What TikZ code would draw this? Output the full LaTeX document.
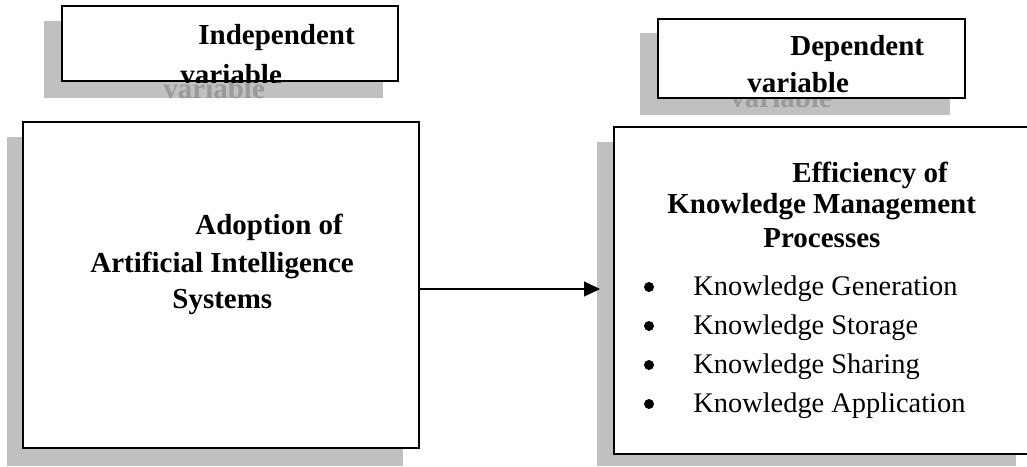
\documentclass[tikz,border=0pt]{standalone}
\usepackage{fontspec}
\setmainfont{Liberation Serif}
\usetikzlibrary{fit,arrows.meta}
\definecolor{shadowgrey}{HTML}{C0C0C0}
\definecolor{shadowtext}{HTML}{9A9A9A}
\tikzset{
  box/.style={draw=black, line width=1.1pt, fill=white, inner sep=0pt},
  shade/.style={fill=shadowgrey, draw=none, inner sep=0pt},
  bold/.style={anchor=base west, inner sep=0pt, font=\fontsize{14.5}{17}\selectfont\bfseries},
  item/.style={anchor=base west, inner sep=0pt, font=\fontsize{14.2}{17}\selectfont},
  dot/.style={circle, fill=black, inner sep=0pt, minimum size=5pt},
  link/.style={line width=0.6pt, -{Triangle[length=8pt,width=7.5pt]}}
}
\begin{document}
\begin{tikzpicture}[x=0.5pt,y=-0.5pt]
\clip (0,0) rectangle (1027,466);
\fill[white] (0,0) rectangle (1027,466);

% ---- Independent variable header ----
\node[shade, fit={(44,21) (383,98)}] (indsh) {};
\begin{scope}
  \clip (indsh.north west) rectangle (indsh.south east);
  \node[bold, text=shadowtext] (indshtxt) at (163,98) {variable};
\end{scope}
\node[box, fit={(62,6) (398,81)}] (ind) {};
\begin{scope}
  \clip (ind.north west) rectangle (ind.south east);
  \node[bold] (indt1) at (198,44) {Independent};
  \node[bold] (indt2) at (180,84) {variable};
\end{scope}

% ---- Dependent variable header ----
\node[shade, fit={(640,33) (950,115)}] (depsh) {};
\begin{scope}
  \clip (depsh.north west) rectangle (depsh.south east);
  \node[bold, text=shadowtext] (depshtxt) at (730,107) {variable};
\end{scope}
\node[box, fit={(658,19) (965,98)}] (dep) {};
\begin{scope}
  \clip (dep.north west) rectangle (dep.south east);
  \node[bold] (dept1) at (790,55) {Dependent};
  \node[bold] (dept2) at (747,92) {variable};
\end{scope}

% ---- Left main box ----
\node[shade, fit={(7,137) (403,466)}] (aish) {};
\node[box, fit={(23,122) (419,448)}] (ai) {};
\node[bold] (ait1) at (195,234) {Adoption of};
\node[bold] (ait2) at (90,272) {Artificial Intelligence};
\node[bold] (ait3) at (172,308) {Systems};

% ---- Right main box ----
\node[shade, fit={(597,142) (1016,466)}] (kmsh) {};
\node[box, fit={(614,127) (1040,454)}] (km) {};
\node[bold] (kmt1) at (792,182) {Efficiency of};
\node[bold] (kmt2) at (667,213) {Knowledge Management};
\node[bold] (kmt3) at (763,247) {Processes};

\node[dot] (b1) at (649,287) {};
\node[dot] (b2) at (649,326) {};
\node[dot] (b3) at (649,365) {};
\node[dot] (b4) at (649,404) {};
\node[item] (i1) at (693,295) {Knowledge Generation};
\node[item] (i2) at (693,334) {Knowledge Storage};
\node[item] (i3) at (693,373) {Knowledge Sharing};
\node[item] (i4) at (693,412) {Knowledge Application};

% ---- Arrow ----
\coordinate (tip) at (600,289);
\draw[link] (ai.east |- tip) -- (tip);
\end{tikzpicture}
\end{document}
